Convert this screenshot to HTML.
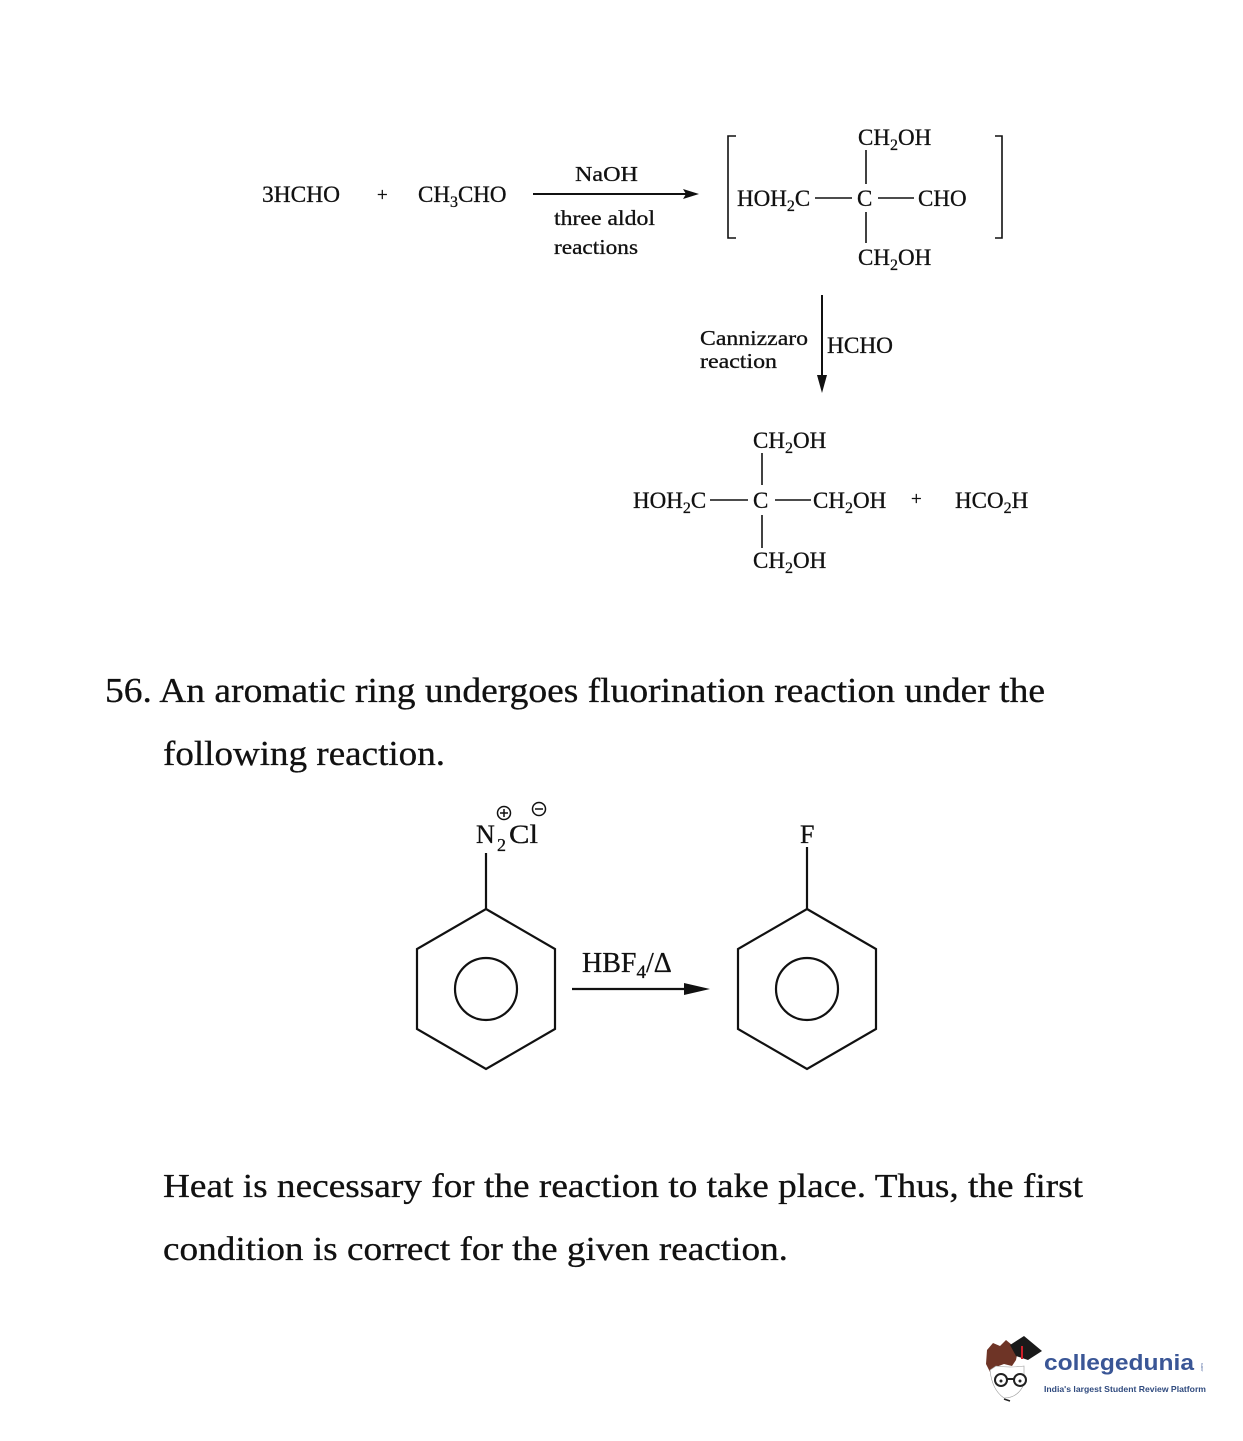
<!DOCTYPE html>
<html>
<head>
<meta charset="utf-8">
<style>
  html,body{margin:0;padding:0;background:#fff;}
  svg{display:block;}
  .t{font-family:"Liberation Serif",serif;fill:#111;stroke:#111;stroke-width:0.3;}
</style>
</head>
<body>
<svg width="1243" height="1441" viewBox="0 0 1243 1441" xmlns="http://www.w3.org/2000/svg">
  <rect width="1243" height="1441" fill="#fff"/>

  <!-- ===== Top reaction ===== -->
  <g class="t" font-size="23">
    <text x="262" y="202" textLength="78" lengthAdjust="spacingAndGlyphs">3HCHO</text>
    <text x="377" y="201" font-size="19">+</text>
    <text x="418" y="202">CH<tspan font-size="16" dy="5">3</tspan><tspan dy="-5">CHO</tspan></text>
    <text x="575" y="181" font-size="21" textLength="63" lengthAdjust="spacingAndGlyphs">NaOH</text>
    <text x="554" y="225" font-size="21" textLength="101" lengthAdjust="spacingAndGlyphs">three aldol</text>
    <text x="554" y="254" font-size="21" textLength="84" lengthAdjust="spacingAndGlyphs">reactions</text>
  </g>
  <line x1="533" y1="194" x2="688" y2="194" stroke="#111" stroke-width="2"/>
  <polygon points="683,189 699,194 683,199 686,194" fill="#111"/>

  <!-- bracket -->
  <path d="M736,136 H728 V238 H736" fill="none" stroke="#111" stroke-width="1.6"/>
  <path d="M995,136 H1002 V238 H995" fill="none" stroke="#111" stroke-width="1.6"/>

  <g class="t" font-size="23">
    <text x="858" y="145">CH<tspan font-size="16" dy="5">2</tspan><tspan dy="-5">OH</tspan></text>
    <text x="737" y="206">HOH<tspan font-size="16" dy="5">2</tspan><tspan dy="-5">C</tspan></text>
    <text x="857" y="206">C</text>
    <text x="918" y="206">CHO</text>
    <text x="858" y="265">CH<tspan font-size="16" dy="5">2</tspan><tspan dy="-5">OH</tspan></text>
  </g>
  <g stroke="#111" stroke-width="1.6">
    <line x1="866" y1="150" x2="866" y2="184"/>
    <line x1="866" y1="212" x2="866" y2="243"/>
    <line x1="815" y1="198" x2="852" y2="198"/>
    <line x1="878" y1="198" x2="914" y2="198"/>
  </g>

  <!-- Cannizzaro arrow -->
  <line x1="822" y1="295" x2="822" y2="380" stroke="#111" stroke-width="2"/>
  <polygon points="817,375 822,393 827,375" fill="#111"/>
  <g class="t">
    <text x="700" y="345" font-size="21" textLength="108" lengthAdjust="spacingAndGlyphs">Cannizzaro</text>
    <text x="700" y="368" font-size="21" textLength="77" lengthAdjust="spacingAndGlyphs">reaction</text>
    <text x="827" y="353" font-size="23" textLength="66" lengthAdjust="spacingAndGlyphs">HCHO</text>
  </g>

  <!-- Product -->
  <g class="t" font-size="23">
    <text x="753" y="448">CH<tspan font-size="16" dy="5">2</tspan><tspan dy="-5">OH</tspan></text>
    <text x="633" y="508">HOH<tspan font-size="16" dy="5">2</tspan><tspan dy="-5">C</tspan></text>
    <text x="753" y="508">C</text>
    <text x="813" y="508">CH<tspan font-size="16" dy="5">2</tspan><tspan dy="-5">OH</tspan></text>
    <text x="911" y="505" font-size="19">+</text>
    <text x="955" y="508">HCO<tspan font-size="16" dy="5">2</tspan><tspan dy="-5">H</tspan></text>
    <text x="753" y="568">CH<tspan font-size="16" dy="5">2</tspan><tspan dy="-5">OH</tspan></text>
  </g>
  <g stroke="#111" stroke-width="1.6">
    <line x1="762" y1="453" x2="762" y2="485"/>
    <line x1="762" y1="515" x2="762" y2="548"/>
    <line x1="710" y1="500" x2="748" y2="500"/>
    <line x1="775" y1="500" x2="811" y2="500"/>
  </g>

  <!-- ===== Question text ===== -->
  <g class="t" font-size="35">
    <text x="105" y="702" textLength="940" lengthAdjust="spacingAndGlyphs">56. An aromatic ring undergoes fluorination reaction under the</text>
    <text x="163" y="765" textLength="282" lengthAdjust="spacingAndGlyphs">following reaction.</text>
  </g>

  <!-- ===== Benzene reaction ===== -->
  <g fill="none" stroke="#111" stroke-width="2.2">
    <polygon points="486,909 555,949 555,1029 486,1069 417,1029 417,949"/>
    <circle cx="486" cy="989" r="31"/>
    <line x1="486" y1="909" x2="486" y2="853"/>
    <polygon points="807,909 876,949 876,1029 807,1069 738,1029 738,949"/>
    <circle cx="807" cy="989" r="31"/>
    <line x1="807" y1="909" x2="807" y2="847"/>
  </g>
  <g class="t" font-size="26">
    <text x="476" y="843">N</text>
    <text x="497" y="851" font-size="18">2</text>
    <text x="509" y="843" textLength="29" lengthAdjust="spacingAndGlyphs">Cl</text>
    <text x="800" y="843">F</text>
  </g>
  <!-- charges -->
  <g fill="none" stroke="#111" stroke-width="1.5">
    <circle cx="504" cy="813" r="6.5"/>
    <line x1="500" y1="813" x2="508" y2="813"/>
    <line x1="504" y1="809" x2="504" y2="817"/>
    <circle cx="539" cy="809" r="6.5"/>
    <line x1="535" y1="809" x2="543" y2="809"/>
  </g>

  <line x1="572" y1="989" x2="690" y2="989" stroke="#111" stroke-width="2.2"/>
  <polygon points="684,983 710,989 684,995" fill="#111"/>
  <text class="t" x="582" y="972" font-size="28">HBF<tspan font-size="19" dy="6">4</tspan><tspan dy="-6">/Δ</tspan></text>

  <!-- ===== Answer text ===== -->
  <g class="t" font-size="34">
    <text x="163" y="1197" textLength="920" lengthAdjust="spacingAndGlyphs">Heat is necessary for the reaction to take place. Thus, the first</text>
    <text x="163" y="1260" textLength="625" lengthAdjust="spacingAndGlyphs">condition is correct for the given reaction.</text>
  </g>

  <!-- ===== Logo ===== -->
  <g>
    <path d="M987,1350 L993,1343 L1000,1346 L1006,1340 L1012,1345 L1018,1350 L1016,1360 L1012,1366 L1004,1364 L996,1367 L990,1372 L986,1364 Z" fill="#6e3426"/>
    <path d="M990,1370 Q992,1390 1004,1398 Q1018,1398 1024,1384 L1024,1366 Q1010,1368 996,1366 Z" fill="#fff" stroke="#999" stroke-width="0.6"/>
    <polygon points="1010,1345 1024,1336 1042,1351 1028,1360 1016,1356" fill="#1a1a1a"/>
    <line x1="1022" y1="1346" x2="1022" y2="1359" stroke="#d0202a" stroke-width="2"/>
    <circle cx="1001" cy="1380" r="6" fill="#fff" stroke="#222" stroke-width="2"/>
    <circle cx="1020" cy="1380" r="6" fill="#fff" stroke="#222" stroke-width="2"/>
    <line x1="1007" y1="1379" x2="1014" y2="1379" stroke="#222" stroke-width="2"/>
    <circle cx="1001" cy="1381" r="1.5" fill="#222"/>
    <circle cx="1020" cy="1381" r="1.5" fill="#222"/>
    <line x1="1004" y1="1399" x2="1010" y2="1401" stroke="#222" stroke-width="1.6"/>
    <text x="1044" y="1370" font-family="Liberation Sans, sans-serif" font-weight="bold" font-size="22" fill="#3a5696" textLength="150" lengthAdjust="spacingAndGlyphs">collegedunia</text>
    <text x="1203" y="1372" font-family="Liberation Sans, sans-serif" font-size="4" fill="#3a5696" transform="rotate(-90 1203 1372)">.com</text>
    <text x="1044" y="1392" font-family="Liberation Sans, sans-serif" font-weight="bold" font-size="8.5" fill="#2f4a7e" textLength="162" lengthAdjust="spacingAndGlyphs">India's largest Student Review Platform</text>
  </g>
</svg>
</body>
</html>
